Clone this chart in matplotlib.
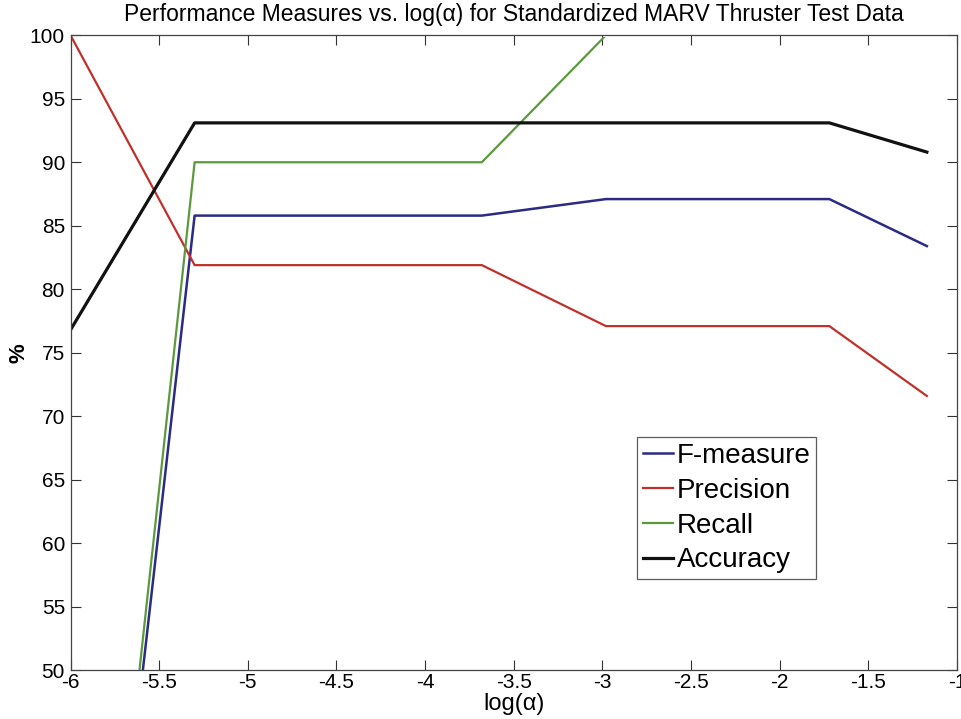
import matplotlib.pyplot as plt
from matplotlib.patches import Rectangle

plt.rcParams['font.family'] = ['Liberation Sans', 'DejaVu Sans']
plt.rcParams['axes.unicode_minus'] = False

# log10 of the regularisation parameter
log_alpha = [-6.0, -5.3, -3.68, -2.98, -1.72, -1.17]

f_measure = [0.0, 85.8, 85.8, 87.1, 87.1, 83.4]
precision = [100.0, 81.9, 81.9, 77.1, 77.1, 71.6]
recall = [0.0, 90.0, 90.0, 100.0, 100.0, 100.0]
accuracy = [76.8, 93.1, 93.1, 93.1, 93.1, 90.8]

xticks = [-6, -5.5, -5, -4.5, -4, -3.5, -3, -2.5, -2, -1.5, -1]
yticks = [50, 55, 60, 65, 70, 75, 80, 85, 90, 95, 100]

fig = plt.figure(figsize=(9.62, 7.19), dpi=100)
ax = fig.add_axes([0.0733, 0.0677, 0.9215, 0.8833])

ax.plot(log_alpha, f_measure, color='#2b2b85', lw=1.8, label='F-measure')
ax.plot(log_alpha, precision, color='#c0312b', lw=1.6, label='Precision')
rec_line, = ax.plot(log_alpha, recall, color='#5b9a3c', lw=1.6, label='Recall')
ax.plot(log_alpha, accuracy, color='#111111', lw=2.3, label='Accuracy')

# the part of recall sitting on the 100% limit stays under the frame
rec_line.set_clip_path(Rectangle((0, 0), 1, 0.997, transform=ax.transAxes))

ax.set_xlim(-6, -1)
ax.set_ylim(50, 100)
ax.set_xticks(xticks)
ax.set_xticklabels([f'{t:g}' for t in xticks])
ax.set_yticks(yticks)
ax.tick_params(direction='in', length=7, width=0.8, color='#333333',
               top=True, right=True, labelsize=15, pad=4)
ax.tick_params(axis='x', pad=2)
for sp in ax.spines.values():
    sp.set_color('#444444')
    sp.set_linewidth(0.9)

ax.set_title('Performance Measures vs. log(α) for Standardized MARV Thruster Test Data',
             fontsize=16.5, pad=10)
ax.set_xlabel('log(α)', fontsize=17, labelpad=1)
ax.set_ylabel('%', fontsize=16, fontweight='bold')
ax.yaxis.set_label_coords(-0.046, 0.5)

leg = ax.legend(loc='upper left', bbox_to_anchor=(0.639, 0.367), fontsize=20,
                frameon=True, fancybox=False, handlelength=1.1, handletextpad=0.14,
                borderpad=0.2, labelspacing=0.32, borderaxespad=0)
leg.get_frame().set_edgecolor('#333333')
leg.get_frame().set_linewidth(0.9)

fig.savefig('out.png', dpi=100)
